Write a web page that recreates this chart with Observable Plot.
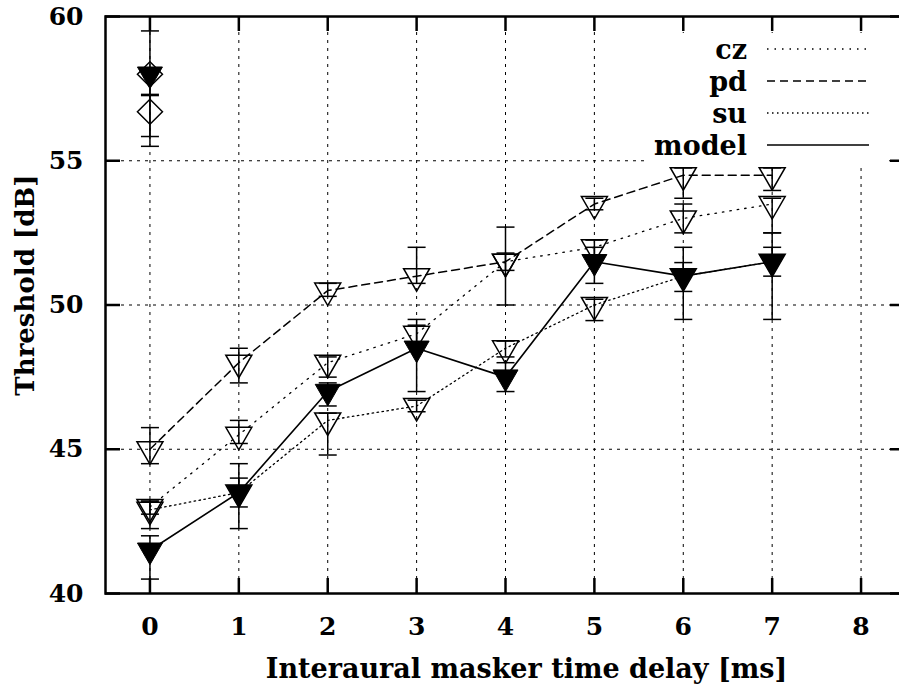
<!DOCTYPE html>
<html><head><meta charset="utf-8">
<script src="https://cdn.jsdelivr.net/npm/d3@7"></script>
<script src="https://cdn.jsdelivr.net/npm/@observablehq/plot@0.6"></script>
<style>
html,body{margin:0;padding:0;background:#fff;overflow:hidden;width:899px;height:691px}
#wrap{position:relative;width:910px;height:691px}
#legend{position:absolute;left:648px;top:33px;width:238px;height:133px;background:#fff}
svg text{font-family:"DejaVu Serif",serif !important;font-weight:bold}
</style></head><body><div id="wrap"></div>
<script>
// ---- data ----
const delays = [0, 1, 2, 3, 4, 5, 6, 7];
const seriesNames = ["cz", "pd", "su", "model"];

const cz    = [43.0, 45.5, 48.0, 49.0, 51.5, 52.0, 53.0, 53.5];
const czLo  = [42.75, 45.2, 47.5, 48.7, 50.0, 51.7, 52.5, 52.5];
const czHi  = [43.25, 46.0, 48.2, 49.3, 52.7, 52.25, 53.5, 53.7];

const pd    = [45.0, 48.0, 50.5, 51.0, 51.5, 53.5, 54.5, 54.5];
const pdLo  = [44.5, 47.3, 50.3, 50.75, 51.2, 53.3, 53.7, 53.97];
const pdHi  = [45.75, 48.5, 50.75, 52.0, 51.8, 53.7, 54.75, 54.75];

const su    = [42.9, 43.5, 46.0, 46.5, 48.5, 50.0, 51.0, 51.5];
const suLo  = [42.25, 43.0, 44.8, 46.3, 48.2, 49.46, 50.47, 51.0];
const suHi  = [43.2, 44.0, 46.25, 46.7, 48.75, 50.2, 51.47, 52.0];

const model   = [41.5, 43.5, 47.0, 48.5, 47.5, 51.5, 51.0, 51.5];
const modelLo = [40.5, 42.25, 46.5, 47.0, 47.0, 50.75, 49.5, 49.5];
const modelHi = [42.0, 44.5, 47.3, 49.5, 48.0, 52.0, 52.0, 52.5];

// reference (diotic) points drawn at delay 0
const refX    = [0, 0, 0];
const refY    = [58.0, 58.0, 56.7];
const refLo   = [55.84, 57.3, 55.5];
const refHi   = [58.2, 59.5, 57.26];
const refKind = ["filled", "diamond", "diamond"];

const xTicks = [0, 1, 2, 3, 4, 5, 6, 7, 8];
const yTicks = [40, 45, 50, 55, 60];
const xLabel = "Interaural masker time delay [ms]";
const yLabel = "Threshold [dB]";

// ---- styles ----
const FONT = "'DejaVu Serif', serif";
const dash = {cz: "1.5,6", pd: "8,5", su: "1.5,3.5", model: null};
const lw = {cz: 1.3, pd: 1.5, su: 1.3, model: 1.6};

const valuesOf = {cz: [cz, czLo, czHi], pd: [pd, pdLo, pdHi], su: [su, suLo, suHi], model: [model, modelLo, modelHi]};
const rows = [];
for (const s of seriesNames) {
  const [v, lo, hi] = valuesOf[s];
  delays.forEach((d, i) => rows.push({series: s, x: d, y: v[i], lo: lo[i], hi: hi[i], kind: s === "model" ? "filled" : "open"}));
}
const refRows = refX.map((d, i) => ({series: "ref", x: d, y: refY[i], lo: refLo[i], hi: refHi[i], kind: refKind[i]}));
const allRows = rows.concat(refRows);

const triDown = {draw(ctx, size) {
  const r = Math.sqrt(size / Math.PI);
  ctx.moveTo(-r, -0.577 * r); ctx.lineTo(r, -0.577 * r); ctx.lineTo(0, 1.155 * r); ctx.closePath();
}};
const diamond = {draw(ctx, size) {
  const r = Math.sqrt(size / Math.PI);
  ctx.moveTo(0, -r); ctx.lineTo(r, 0); ctx.lineTo(0, r); ctx.lineTo(-r, 0); ctx.closePath();
}};
const cap = {draw(ctx, size) {
  const r = Math.sqrt(size / Math.PI);
  ctx.moveTo(-r, 0); ctx.lineTo(r, 0);
}};

const W = 910, H = 691, mL = 105, mR = 5, mT = 16, mB = 98;
const plotW = W - mL - mR, plotH = H - mT - mB, tick = 15;

const marks = [
  Plot.gridX(xTicks, {stroke: "black", strokeOpacity: 1, strokeWidth: 1, strokeDasharray: "3,5"}),
  Plot.gridY(yTicks, {stroke: "black", strokeOpacity: 1, strokeWidth: 1, strokeDasharray: "3,5"}),
];
for (const s of seriesNames) {
  marks.push(Plot.line(rows.filter(r => r.series === s), {x: "x", y: "y", stroke: "black", strokeWidth: lw[s], strokeDasharray: dash[s]}));
}
marks.push(
  Plot.ruleX(allRows, {x: "x", y1: "lo", y2: "hi", stroke: "black", strokeWidth: 1.5}),
  Plot.dot(allRows, {x: "x", y: "lo", symbol: cap, r: 9, fill: "none", stroke: "black", strokeWidth: 1.5}),
  Plot.dot(allRows, {x: "x", y: "hi", symbol: cap, r: 9, fill: "none", stroke: "black", strokeWidth: 1.5}),
  Plot.dot(allRows.filter(r => r.kind === "open"), {x: "x", y: "y", symbol: triDown, r: 13, fill: "none", stroke: "black", strokeWidth: 1.5}),
  Plot.dot(allRows.filter(r => r.kind === "diamond"), {x: "x", y: "y", symbol: diamond, r: 12.5, fill: "none", stroke: "black", strokeWidth: 1.5}),
  Plot.dot(allRows.filter(r => r.kind === "filled"), {x: "x", y: "y", symbol: triDown, r: 12.5, fill: "black", stroke: "black", strokeWidth: 1}),
  Plot.frame({stroke: "black", strokeWidth: 2.5}),
  Plot.tickX(xTicks, {x: d => d, stroke: "black", strokeWidth: 2.5, insetTop: plotH - tick}),
  Plot.tickX(xTicks, {x: d => d, stroke: "black", strokeWidth: 2.5, insetBottom: plotH - tick}),
  Plot.tickY(yTicks, {y: d => d, stroke: "black", strokeWidth: 2.5, insetRight: plotW - tick}),
  Plot.tickY(yTicks, {y: d => d, stroke: "black", strokeWidth: 2.5, insetLeft: plotW - tick}),
  Plot.axisX(xTicks, {tickSize: 0, tickPadding: 24, label: null, fontSize: 25, fontWeight: "bold", fontFamily: FONT}),
  Plot.axisY(yTicks, {tickSize: 0, tickPadding: 22, label: null, fontSize: 25, fontWeight: "bold", fontFamily: FONT}),
  Plot.text([xLabel], {frameAnchor: "bottom", dx: 21, dy: 84, fontSize: 27, fontWeight: "bold", fontFamily: FONT, fill: "black"}),
  Plot.text([yLabel], {frameAnchor: "left", textAnchor: "middle", dx: -72, dy: -20, rotate: -90, lineAnchor: "bottom", fontSize: 26, fontWeight: "bold", fontFamily: FONT, fill: "black"})
);

const chart = Plot.plot({
  width: W, height: H,
  marginLeft: mL, marginRight: mR, marginTop: mT, marginBottom: mB,
  x: {domain: [-0.5, 8.5]},
  y: {domain: [40, 60]},
  style: {fontFamily: FONT, fontSize: "25px", fontWeight: "bold", color: "black", background: "white"},
  marks
});
const wrap = document.getElementById("wrap");
wrap.appendChild(chart);

// legend (white box like gnuplot key)
const leg = document.createElement("div");
leg.id = "legend";
const ns = "http://www.w3.org/2000/svg";
const lsvg = document.createElementNS(ns, "svg");
lsvg.setAttribute("width", 238); lsvg.setAttribute("height", 133);
seriesNames.forEach((s, i) => {
  const base = 26 + i * 32;
  const t = document.createElementNS(ns, "text");
  t.setAttribute("x", 99); t.setAttribute("y", base);
  t.setAttribute("text-anchor", "end");
  t.setAttribute("font-family", FONT);
  t.setAttribute("font-weight", "bold"); t.setAttribute("font-size", 27);
  t.textContent = s;
  lsvg.appendChild(t);
  const l = document.createElementNS(ns, "line");
  l.setAttribute("x1", 119); l.setAttribute("x2", 221);
  l.setAttribute("y1", base - 10); l.setAttribute("y2", base - 10);
  l.setAttribute("stroke", "black"); l.setAttribute("stroke-width", lw[s]);
  if (dash[s]) l.setAttribute("stroke-dasharray", dash[s]);
  lsvg.appendChild(l);
});
leg.appendChild(lsvg);
wrap.appendChild(leg);
</script></body></html>
